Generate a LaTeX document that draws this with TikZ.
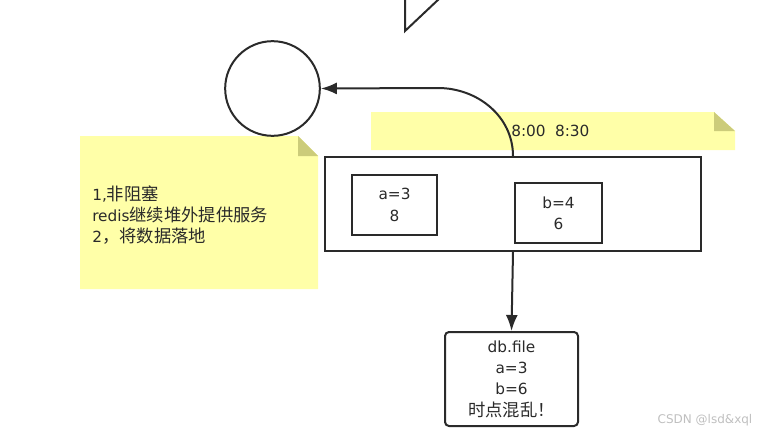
\documentclass[tikz,border=0pt]{standalone}
\usepackage{fontspec}
\setmainfont{DejaVu Sans}
\newfontfamily\cjk{Noto Sans CJK SC}[Scale=1.13]
\usetikzlibrary{arrows.meta}
\definecolor{notefill}{HTML}{FFFFA8}
\definecolor{notefold}{HTML}{CCCC7A}
\definecolor{ink}{HTML}{2A2A2A}
\newcommand{\notetext}{\fontsize{11.5}{16}\selectfont\lineskiplimit=-20pt\relax}

\begin{document}
\begin{tikzpicture}[x=0.75pt,y=-0.75pt,
	box/.style={draw=ink,line width=1.5pt,inner sep=0pt,align=center,text=ink,font=\notetext},
	txt/.style={text=ink,inner sep=0pt,font=\notetext},
	arr/.style={draw=ink,line width=1.5pt,-{Latex[length=12pt,width=9pt]}}]
			\useasboundingbox (0,0) rectangle (767,439);
			\fill[notefill] (80,136) -- (298,136) -- (318,156) -- (318,289) -- (80,289) -- cycle;
			\fill[notefold] (298,136) -- (298,156) -- (318,156) -- cycle;
			\fill[notefill] (371,112) -- (714,112) -- (735,131) -- (735,150) -- (371,150) -- cycle;
			\fill[notefold] (714,112) -- (714,131) -- (735,131) -- cycle;
			\draw[ink,line width=1.5pt] (405,-2) -- (405,31) -- (440,-2);
			\node[box,circle,minimum size=71pt] (circ) at (272.5,88.5) {};
			\node[box,minimum width=282pt,minimum height=70.5pt] (big) at (513,204) {};
			\node[box,minimum width=63.75pt,minimum height=45pt] (boxa) at (394.5,205) {a=3\\8};
			\node[box,minimum width=65.25pt,minimum height=45pt] (boxb) at (558.5,213) {b=4\\6};
			\node[box,rounded corners=3pt,minimum width=99.75pt,minimum height=70.5pt] (db) at (511.5,379) {db.file\\a=3\\b=6\\{\cjk 时点混乱！}};
			\node[txt,anchor=west] (times) at (511,131) {8:00\hspace{7pt}8:30};
			\node[txt,anchor=west,align=left] (memo) at (92,215) {1,{\cjk 非阻塞}\\redis{\cjk 继续堆外提供服务}\\2{\cjk ，将数据落地}};
			\node[text=black!25,inner sep=0pt,font=\fontsize{9}{10}\selectfont] (mark) at (705,420) {CSDN @lsd\&xql};
			\draw[arr] (big.north) to[out=90,in=0] ++(-75,-68) -- (circ.east);
			\draw[arr] (big.south) -- (db.north);
		\end{tikzpicture}
\end{document}
